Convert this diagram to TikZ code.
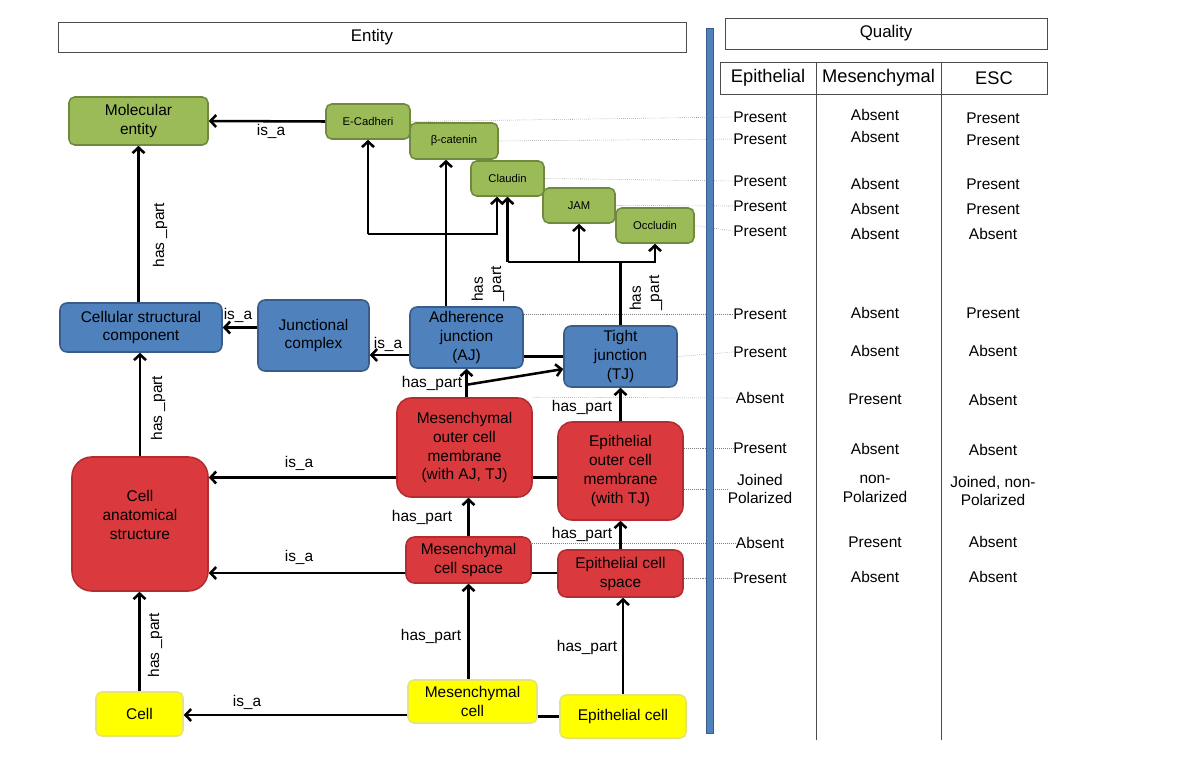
\documentclass[tikz,border=0pt]{standalone}
\usepackage{fontspec}
\setmainfont{Liberation Sans}
\usetikzlibrary{arrows.meta,calc}
\definecolor{molfill}{HTML}{9BBB59}
\definecolor{moldraw}{HTML}{71893F}
\definecolor{strfill}{HTML}{4F81BD}
\definecolor{strdraw}{HTML}{385D8A}
\definecolor{anafill}{RGB}{218,58,62}
\definecolor{anadraw}{RGB}{178,44,48}
\definecolor{celfill}{HTML}{FFFF00}
\definecolor{celdraw}{RGB}{228,228,120}
\tikzset{
  wh/.style 2 args={minimum width=#1*0.025cm,minimum height=#2*0.025cm},
  box/.style={rounded corners=5pt,line width=1.1pt,align=center,inner sep=0pt,font=\fontsize{11}{13.5}\selectfont},
  molbox/.style={box,fill=molfill,draw=moldraw,rounded corners=4pt},
  protbox/.style={molbox,font=\fontsize{8}{10}\selectfont},
  strbox/.style={box,fill=strfill,draw=strdraw},
  anabox/.style={box,fill=anafill,draw=anadraw,rounded corners=10pt},
  celbox/.style={box,fill=celfill,draw=celdraw,rounded corners=4pt},
  rel/.style={line width=1.8pt,-{Straight Barb[length=4pt,width=8.5pt]}},
  tie/.style={line width=1.8pt},
  lbl/.style={font=\fontsize{11}{13}\selectfont,inner sep=0pt,align=left},
  guide/.style={gray,line width=0.4pt,densely dotted},
  val/.style={font=\fontsize{11}{13}\selectfont,align=center,inner sep=0pt},
  hdr/.style={draw=black!70,line width=0.6pt,inner sep=0pt},
  rule/.style={black!70,line width=0.6pt}
}
\begin{document}
\begin{tikzpicture}[x=0.025cm,y=-0.025cm]
\pgfmathsetmacro{\xe}{760}
\pgfmathsetmacro{\xm}{875}
\pgfmathsetmacro{\xs}{993}
\useasboundingbox (0,0) rectangle (1200,762);
\node[hdr,wh={628}{30},font=\fontsize{12}{14}\selectfont] (entity) at (372,37) {Entity};
\node[hdr,wh={322}{31},font=\fontsize{12}{14}\selectfont] (quality) at (886,33.5) {Quality};
\node[hdr,wh={96}{32},font=\fontsize{13}{15}\selectfont] (epi) at (768,78) {Epithelial};
\node[hdr,wh={125}{32},font=\fontsize{13}{15}\selectfont] (mes) at (878.5,78) {Mesenchymal};
\node[hdr,wh={106}{32},font=\fontsize{13}{15}\selectfont] (esc) at (994,78) {ESC};
\draw[rule] (epi.south east) -- ++(0,646);
\draw[rule] (mes.south east) -- ++(0,646);
\node[molbox,wh={139}{48}] (mol) at (138.5,121) {Molecular\\entity};
\node[protbox,wh={84}{35}] (ecad) at (368,121.5) {E-Cadheri};
\node[protbox,wh={88}{36}] (bcat) at (454,141) {β-catenin};
\node[protbox,wh={73}{35}] (claud) at (507.5,178.5) {Claudin};
\node[protbox,wh={72}{35}] (jam) at (579,205.5) {JAM};
\node[protbox,wh={78}{35}] (occl) at (655,225.5) {Occludin};
\node[strbox,wh={162}{49}] (csc) at (141,327.5) {Cellular structural\\component};
\node[strbox,wh={111}{71}] (jc) at (313.5,335.5) {Junctional\\complex};
\node[strbox,wh={113}{61}] (aj) at (466.5,337.5) {Adherence\\junction\\(AJ)};
\node[strbox,wh={113}{61}] (tj) at (620.5,356.5) {Tight\\junction\\(TJ)};
\node[anabox,wh={136}{134},rounded corners=14pt] (cas) at (140,524) {Cell\\anatomical\\structure\\~};
\node[anabox,wh={135}{99}] (mocm) at (464.5,447.5) {Mesenchymal\\outer cell\\membrane\\(with AJ, TJ)};
\node[anabox,wh={125}{98}] (etcm) at (620.5,471) {Epithelial\\outer cell\\membrane\\(with TJ)};
\node[anabox,wh={125}{46},rounded corners=6pt] (mcs) at (468.5,560) {Mesenchymal\\cell space};
\node[anabox,wh={125}{47},rounded corners=6pt] (ecs) at (620.5,573.5) {Epithelial cell\\space};
\node[celbox,wh={87}{44}] (cell) at (139.5,714) {Cell};
\node[celbox,wh={129}{43}] (mcell) at (472.5,701.5) {Mesenchymal\\cell};
\node[celbox,wh={126}{43}] (ecell) at (623,716.5) {Epithelial cell};
\foreach \i/\ya/\yb/\yc/\a/\b/\c in {
  1/117/115/118/Present/Absent/Present,
  2/139/137/140/Present/Absent/Present,
  3/181/184/184/Present/Absent/Present,
  4/206/209/209/Present/Absent/Present,
  5/231/234/234/Present/Absent/Absent,
  6/314/313/313/Present/Absent/Present,
  7/352/351/351/Present/Absent/Absent,
  8/398/399/400/Absent/Present/Absent,
  9/448/449/450/Present/Absent/Absent,
  10/489/489/491/{Joined\\Polarized}/{non-\\Polarized}/{Joined, non-\\Polarized},
  11/543/542/542/Absent/Present/Absent,
  12/578/577/577/Present/Absent/Absent}{
  \node[val] (e\i) at (\xe,\ya) {\a};
  \node[val] (m\i) at (\xm,\yb) {\b};
  \node[val] (s\i) at (\xs,\yc) {\c};
}
\foreach \n/\i in {ecad/1,bcat/2,claud/3,jam/4,occl/5,tj/7}
  \draw[guide] (\n.east) -- (e\i.west);
\draw[guide] (aj.east |- e6.west) -- (e6.west);
\draw[guide] (mocm.north east) -- (e8.west);
\draw[guide] (etcm.east |- e9.west) -- (e9.west);
\draw[guide] (etcm.east |- e10.west) -- (e10.west);
\draw[guide] (mcs.east |- e11.west) -- (e11.west);
\draw[guide] (ecs.east |- e12.west) -- (e12.west);
\fill[strfill,draw=strdraw,line width=0.6pt] (706,28) rectangle (713,733);
\coordinate (ajk) at (446,234);
\coordinate (tjk) at (621,262);
\coordinate (ajt) at ($(aj.north)+(-20.5,0)$);
\coordinate (clk) at ($(claud.south)+(-10.5,0)$);
\coordinate (aw) at ($(aj.west)+(0,17.5)$);
\coordinate (mw) at ($(mocm.west)+(0,30)$);
\coordinate (sw) at ($(mcs.west)+(0,13)$);
\coordinate (cw) at ($(mcell.west)+(0,13.5)$);
\draw[rel] (ecad.west) -- (mol.east);
\draw[rel] (csc.north -| mol.south) -- (mol.south);
\draw[rel] (ajt) -- (ajt |- bcat.south);
\draw[rel] (ecad.south |- ajk) -- (ecad.south);
\draw[rel] (ecad.south |- ajk) -- (clk |- ajk) -- (clk);
\draw[tie] (tj.north) -- (tj.north |- tjk);
\draw[rel] (claud.south |- tjk) -- (claud.south);
\draw[rel] (claud.south |- tjk) -- (occl.south |- tjk) -- (occl.south);
\draw[rel] (jam.south |- tjk) -- (jam.south);
\draw[rel] (jc.west |- csc.east) -- (csc.east);
\draw[rel] (aw) -- (aw -| jc.east);
\draw[tie] (tj.west) -- (tj.west -| aj.east);
\draw[rel] (mocm.north -| aj.south) -- (aj.south);
\draw[rel] ($(aj.south)+(0,16)$) -- ($(tj.west)+(0,12.5)$);
\draw[rel] (etcm.north) -- (tj.south);
\draw[rel] (cas.north) -- (cas.north |- csc.south);
\draw[rel] (mw) -- (mw -| cas.east);
\draw[tie] (etcm.west |- mw) -- (mw -| mocm.east);
\draw[rel] (mcs.north) -- (mcs.north |- mocm.south);
\draw[rel] (ecs.north) -- (etcm.south);
\draw[rel] (sw) -- (sw -| cas.east);
\draw[tie] (ecs.west |- sw) -- (sw -| mcs.east);
\draw[rel] (mcell.north -| mcs.south) -- (mcs.south);
\draw[rel] (ecell.north) -- (ecell.north |- ecs.south);
\draw[rel] (cell.north) -- (cell.north |- cas.south);
\draw[rel] (cw) -- (cw -| cell.east);
\draw[tie] (ecell.west) -- (ecell.west -| mcell.east);
\node[lbl] (isa1) at (271,131) {is\_a};
\node[lbl,rotate=90] (hp1) at (160,235) {has \_part};
\node[lbl] (isa2) at (238,315) {is\_a};
\node[lbl] (isa3) at (388,344) {is\_a};
\node[lbl,rotate=90] (hp2) at (488,284) {has\\\_part};
\node[lbl,rotate=90] (hp3) at (646,293) {has\\\_part};
\node[lbl] (hp4) at (432,383) {has\_part};
\node[lbl] (hp5) at (582,407) {has\_part};
\node[lbl,rotate=90] (hp6) at (158,408) {has \_part};
\node[lbl] (isa4) at (299,463) {is\_a};
\node[lbl] (hp7) at (422,517) {has\_part};
\node[lbl] (hp8) at (582,534) {has\_part};
\node[lbl] (isa5) at (299,557) {is\_a};
\node[lbl] (hp9) at (431,636) {has\_part};
\node[lbl] (hp10) at (587,647) {has\_part};
\node[lbl,rotate=90] (hp11) at (155,645) {has \_part};
\node[lbl] (isa6) at (247,702) {is\_a};
\end{tikzpicture}
\end{document}
